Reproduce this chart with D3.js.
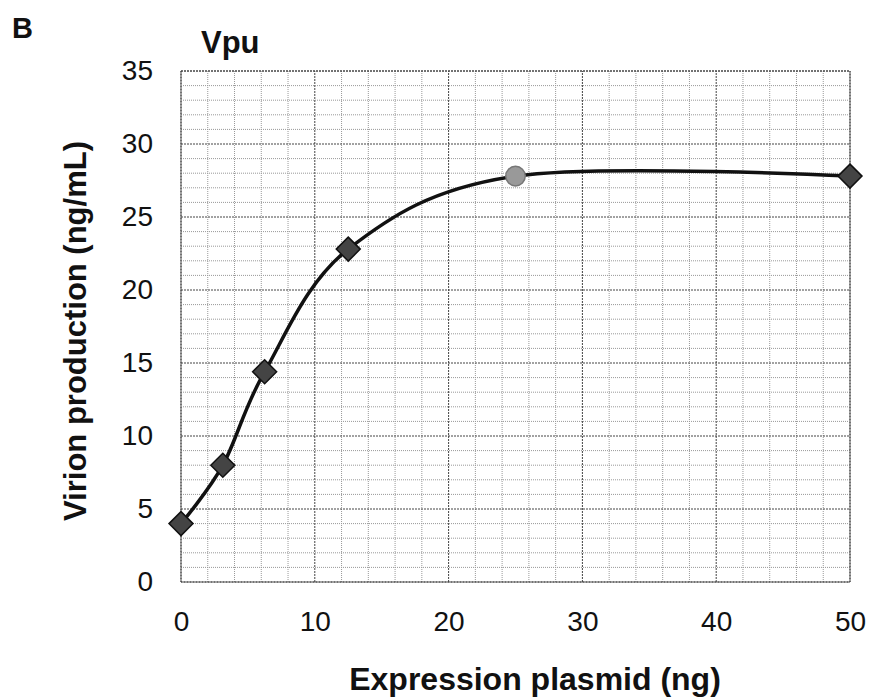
<!DOCTYPE html>
<html lang="en">
  <head>
    <meta charset="UTF-8" />
    <title>Vpu</title>
    <script src="https://d3js.org/d3.v7.min.js"></script>
    <style>
      body { margin: 0; background: #fff; }
      text { font-family: 'Liberation Sans', Arial, sans-serif; fill: #111; }
    </style>
  </head>
  <body>
    <div id="graph"></div>
    <script>
      const plasmid = [0, 3.125, 6.25, 12.5, 25, 50]
      const virion = [4, 8, 14.4, 22.8, 27.8, 27.8]
      const xTicks = [0, 10, 20, 30, 40, 50]
      const yTicks = [0, 5, 10, 15, 20, 25, 30, 35]
      const highlighted = 4 // index of the light grey point

      const svg = d3.select('#graph').append('svg').attr('width', 871).attr('height', 699)

      const x = d3.scaleLinear().domain([0, 50]).range([181, 850])
      const y = d3.scaleLinear().domain([0, 35]).range([582, 71])

      // grid: minor every 2 (x) / 1 (y), major every 10 / 5
      const grid = svg.append('g')
      grid.selectAll('line.v')
        .data(d3.range(0, 51, 2))
        .join('line')
        .attr('x1', (d) => x(d)).attr('x2', (d) => x(d))
        .attr('y1', y(0)).attr('y2', y(35))
        .attr('stroke', (d) => (d % 10 === 0 ? '#444' : '#999'))
        .attr('stroke-width', 1)
        .attr('stroke-dasharray', (d) => (d % 10 === 0 ? '2,1' : '1,1'))
      grid.selectAll('line.h')
        .data(d3.range(0, 36, 1))
        .join('line')
        .attr('y1', (d) => y(d)).attr('y2', (d) => y(d))
        .attr('x1', x(0)).attr('x2', x(50))
        .attr('stroke', (d) => (d % 5 === 0 ? '#444' : '#999'))
        .attr('stroke-width', 1)
        .attr('stroke-dasharray', (d) => (d % 5 === 0 ? '2,1' : '1,1'))
      svg.append('rect')
        .attr('x', x(0)).attr('y', y(35))
        .attr('width', x(50) - x(0)).attr('height', y(0) - y(35))
        .attr('fill', 'none').attr('stroke', '#444').attr('stroke-dasharray', '2,1')

      // axes (labels only)
      const xAxis = d3.axisBottom(x).tickValues(xTicks).tickSize(0).tickPadding(29)
      svg.append('g').attr('transform', `translate(0, ${y(0)})`).call(xAxis)
        .call((g) => g.select('.domain').remove())
        .selectAll('text').attr('font-size', 28).attr('fill', '#111')
      const yAxis = d3.axisLeft(y).tickValues(yTicks).tickSize(0).tickPadding(28)
      svg.append('g').attr('transform', `translate(${x(0)}, 0)`).call(yAxis)
        .call((g) => g.select('.domain').remove())
        .selectAll('text').attr('font-size', 28).attr('fill', '#111')

      // curve
      const pts = plasmid.map((d, i) => [d, virion[i]])
      const line = d3.line().x((d) => x(d[0])).y((d) => y(d[1])).curve(d3.curveCardinal.tension(0))
      svg.append('path').attr('d', line(pts)).attr('fill', 'none').attr('stroke', '#111').attr('stroke-width', 3.5)

      // markers
      svg.append('g').selectAll('path')
        .data(pts)
        .join('path')
        .attr('transform', (d) => `translate(${x(d[0])}, ${y(d[1])})`)
        .attr('d', (d, i) => (i === highlighted ? d3.symbol(d3.symbolCircle, 300)() : 'M0,-12L12,0L0,12L-12,0Z'))
        .attr('fill', (d, i) => (i === highlighted ? '#999' : '#444'))
        .attr('stroke', (d, i) => (i === highlighted ? '#777' : '#111'))
        .attr('stroke-width', 1.5)

      // titles
      svg.append('text').attr('x', 12).attr('y', 38).attr('font-size', 29).attr('font-weight', 'bold').text('B')
      svg.append('text').attr('x', 201).attr('y', 53).attr('font-size', 31).attr('font-weight', 'bold').text('Vpu')
      svg.append('text')
        .attr('x', 535).attr('y', 690)
        .attr('text-anchor', 'middle').attr('font-size', 32).attr('font-weight', 'bold')
        .text('Expression plasmid (ng)')
      svg.append('text')
        .attr('transform', `translate(86, 331) rotate(-90)`)
        .attr('text-anchor', 'middle').attr('font-size', 31).attr('font-weight', 'bold')
        .text('Virion production (ng/mL)')
    </script>
  </body>
</html>
